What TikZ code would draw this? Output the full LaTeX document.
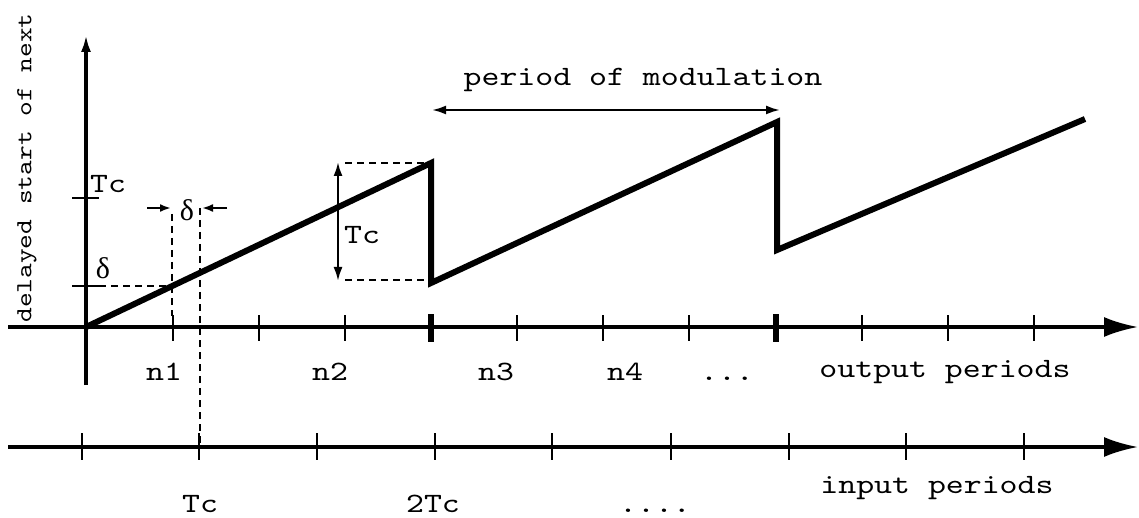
\documentclass[tikz,border=0pt]{standalone}
\usepackage{fontspec}
\newfontfamily\grk{Liberation Serif}
\newfontfamily\mymono[FakeStretch=1.22]{lmmono10-regular.otf}
\usetikzlibrary{arrows.meta}
\newcommand{\monofnt}[1]{\mymono\fontsize{#1}{#1}\selectfont}
\begin{document}
\begin{tikzpicture}[x=1pt,y=-1pt,
  axisline/.style={line width=3.2pt},
  bigtip/.style={-{Latex[length=34pt,width=20pt]}},
  ytip/.style={-{Latex[length=17pt,width=10pt]}},
  dbl/.style={line width=2.2pt,{Latex[length=14pt,width=9pt]}-{Latex[length=14pt,width=9pt]}},
  small/.style={line width=2.2pt,-{Latex[length=11pt,width=8pt]}},
  tick/.style={line width=2.8pt},
  thicktick/.style={line width=5.5pt},
  saw/.style={line width=6pt,line join=miter},
  dsh/.style={line width=2.4pt,dash pattern=on 7pt off 5pt},
  lbl/.style={font=\monofnt{28},inner sep=0pt},
  ylbl/.style={font=\monofnt{23},inner sep=0pt,rotate=90},
  gl/.style={font=\grk\fontsize{30}{30}\selectfont,inner sep=0pt}
]
\useasboundingbox (0,0) rectangle (1139,518);

% axes
\coordinate (ybot) at (86,385);
\coordinate (ytop) at (86,35);
\coordinate (oL) at (8,327);
\coordinate (oR) at (1138,327);
\coordinate (iL) at (8,447);
\coordinate (iR) at (1138,447);
\draw[axisline,ytip] (ybot) -- (ytop);
\draw[axisline,bigtip] (oL) -- (oR);
\draw[axisline,bigtip] (iL) -- (iR);

% output ticks
\foreach \x in {173,259,345,517,603,689,862,948,1034}
  \draw[tick] (\x,315) -- (\x,341);
\foreach \x in {431,776}
  \draw[thicktick] (\x,314) -- (\x,342);
% input ticks
\foreach \x in {82,199,317,435,552,671,789,906,1024}
  \draw[tick] (\x,433) -- (\x,460);
% y ticks
\draw[tick] (72,198) -- (99,198);
\draw[tick] (72,286) -- (99,286);

% sawtooth
\coordinate (s0) at (86,327);
\coordinate (s1) at (431,163);
\coordinate (s2) at (431,283);
\coordinate (s3) at (777,122);
\coordinate (s4) at (777,250);
\coordinate (s5) at (1085,119);
\draw[saw] (s0) -- (s1) -- (s2) -- (s3) -- (s4) -- (s5);

% delta construction
\coordinate (dh0) at (99,286);
\coordinate (dh1) at (172,286);
\coordinate (dv1t) at (172,214);
\coordinate (dv1b) at (172,316);
\coordinate (dv2t) at (200,208);
\coordinate (dv2b) at (200,447);
\draw[dsh] (dh0) -- (dh1);
\draw[dsh] (dv1t) -- (dv1b);
\draw[dsh] (dv2t) -- (dv2b);
\coordinate (aL0) at (147,208);
\coordinate (aL1) at (171,208);
\coordinate (aR0) at (227,208);
\coordinate (aR1) at (202,208);
\draw[small] (aL0) -- (aL1);
\draw[small] (aR0) -- (aR1);
\node[gl] (dtop) at (187,210) {δ};
\node[gl] (dleft) at (103,268) {δ};
\node[lbl,anchor=west] (tcy) at (90,184) {Tc};

% Tc arrow
\coordinate (tcA) at (338,162);
\coordinate (tcB) at (338,281);
\draw[dbl] (tcA) -- (tcB);
\draw[dsh] (345,163) -- (s1);
\draw[dsh] (345,280) -- (428,280);
\node[lbl] (tcm) at (362,235) {Tc};

% period of modulation
\coordinate (pmL) at (432,110);
\coordinate (pmR) at (780,110);
\draw[dbl] (pmL) -- (pmR);
\node[lbl] (pm) at (643,80) {period of modulation};

% labels
\node[ylbl] (yl) at (27,168) {delayed start of next};
\node[lbl] (n1) at (164,372) {n1};
\node[lbl] (n2) at (330,372) {n2};
\node[lbl] (n3) at (496,372) {n3};
\node[lbl] (n4) at (625,372) {n4};
\node[lbl,anchor=base] (dots) at (727,380) {...};
\node[lbl] (op) at (945,372) {output periods};
\node[lbl] (ip) at (937,488) {input periods};
\node[lbl,anchor=base] (tc1) at (200,512) {Tc};
\node[lbl,anchor=base] (tc2) at (433,512) {2Tc};
\node[lbl,anchor=base] (dots2) at (655,512) {....};
\end{tikzpicture}
\end{document}
